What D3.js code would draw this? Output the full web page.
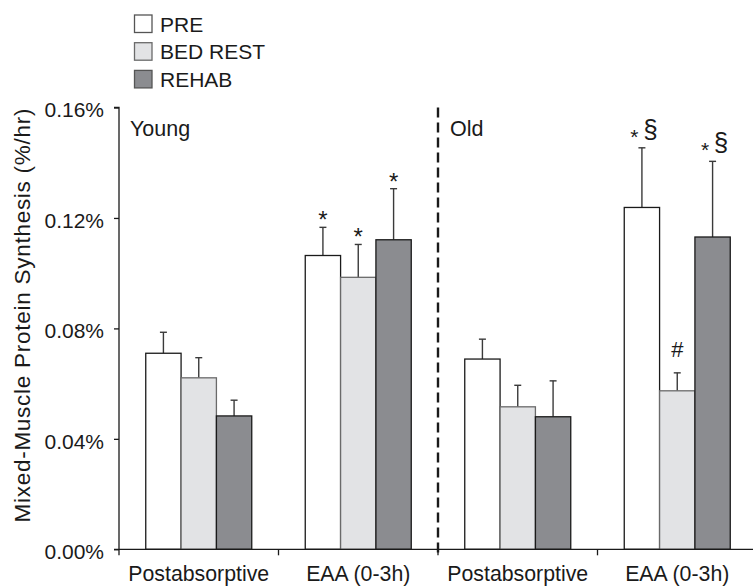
<!DOCTYPE html>
<html>
<head>
<meta charset="utf-8">
<script src="https://cdn.jsdelivr.net/npm/d3@7"></script>
<style>
  html, body { margin: 0; padding: 0; background: #fff; }
  svg { display: block; font-family: "Liberation Sans", Arial, Helvetica, sans-serif; }
</style>
</head>
<body>
<svg id="chart" width="753" height="586"></svg>
<script>
// Categories (age group × condition) and treatment series
const groups = ["Young-Post", "Young-EAA", "Old-Post", "Old-EAA"];
const groupLabels = ["Postabsorptive", "EAA (0-3h)", "Postabsorptive", "EAA (0-3h)"];
const series = ["PRE", "BED REST", "REHAB"];

// Mixed-muscle protein synthesis (%/hr) per series, in group order
const preValues      = [0.0710, 0.1064, 0.0689, 0.1238];
const bedRestValues  = [0.0621, 0.0985, 0.0516, 0.0574];
const rehabValues    = [0.0483, 0.1121, 0.0480, 0.1131];

// Upper error bars (SE)
const preErrors      = [0.0076, 0.0102, 0.0072, 0.0216];
const bedRestErrors  = [0.0073, 0.0119, 0.0078, 0.0065];
const rehabErrors    = [0.0057, 0.0185, 0.0130, 0.0274];

// Significance marks per series, in group order
const preMarks       = ["", "*", "", "*§"];
const bedRestMarks   = ["", "*", "", "#"];
const rehabMarks     = ["", "*", "", "*§"];

const yTicks = [0, 0.04, 0.08, 0.12, 0.16];
const yTickLabels = ["0.00%", "0.04%", "0.08%", "0.12%", "0.16%"];
const panelLabels = ["Young", "Old"];

const seriesValues = [preValues, bedRestValues, rehabValues];
const seriesErrors = [preErrors, bedRestErrors, rehabErrors];
const seriesMarks  = [preMarks, bedRestMarks, rehabMarks];
const fills   = ["#ffffff", "#e2e3e5", "#8b8c90"];
const strokes = ["#1a1a1a", "#6a6a6a", "#1a1a1a"];
const ink = "#1a1a1a";

const svg = d3.select("#chart");

const x0 = d3.scaleBand().domain(groups).range([119, 757]).paddingInner(0).paddingOuter(0);
const x1 = d3.scaleBand().domain(series).range([26.75, x0.bandwidth() - 26.75]).padding(0);
const y = d3.scaleLinear().domain([0, 0.16]).range([549.3, 107.5]);

// Flattened records for the bars
const records = [];
groups.forEach((g, gi) => {
  series.forEach((s, si) => {
    records.push({
      group: g, series: s, si,
      value: seriesValues[si][gi],
      err: seriesErrors[si][gi],
      mark: seriesMarks[si][gi]
    });
  });
});

// Error bars (upper whisker with a short cap)
const errG = svg.append("g");
records.forEach(d => {
  const cx = x0(d.group) + x1(d.series) + x1.bandwidth() / 2;
  const yTop = y(d.value + d.err);
  errG.append("line")
    .attr("x1", cx).attr("x2", cx)
    .attr("y1", y(d.value)).attr("y2", yTop)
    .attr("stroke", "#3a3a3a").attr("stroke-width", 1.4);
  errG.append("line")
    .attr("x1", cx - 3.5).attr("x2", cx + 3.5)
    .attr("y1", yTop).attr("y2", yTop)
    .attr("stroke", "#3a3a3a").attr("stroke-width", 1.4);
});

// Bars
svg.append("g").selectAll("rect")
  .data(records)
  .join("rect")
  .attr("x", d => x0(d.group) + x1(d.series))
  .attr("y", d => y(d.value))
  .attr("width", x1.bandwidth())
  .attr("height", d => y(0) - y(d.value))
  .attr("fill", d => fills[d.si])
  .attr("stroke", d => strokes[d.si])
  .attr("stroke-width", 1.3);

// Significance marks above the error bars
const markG = svg.append("g").attr("fill", ink);
records.filter(d => d.mark).forEach(d => {
  const cx = x0(d.group) + x1(d.series) + x1.bandwidth() / 2;
  const yTop = y(d.value + d.err);
  if (d.mark === "*") {
    markG.append("text").attr("x", cx).attr("y", yTop + 1)
      .attr("text-anchor", "middle").attr("font-size", 24).text("*");
  } else if (d.mark === "#") {
    markG.append("text").attr("x", cx).attr("y", yTop - 16)
      .attr("text-anchor", "middle").attr("font-size", 22).text("#");
  } else if (d.mark === "*§") {
    markG.append("text").attr("x", cx - 7.5).attr("y", yTop - 4)
      .attr("text-anchor", "middle").attr("font-size", 21).text("*");
    markG.append("text").attr("x", cx + 8.5).attr("y", yTop - 10)
      .attr("text-anchor", "middle").attr("font-size", 26).text("§");
  }
});

// Y axis
const yAxis = d3.axisLeft(y).tickValues(yTicks).tickSize(5).tickPadding(10)
  .tickFormat((d, i) => yTickLabels[i]);
const yg = svg.append("g").attr("transform", "translate(119,0)").call(yAxis);
yg.select(".domain").attr("stroke", ink).attr("stroke-width", 1.3)
  .attr("d", `M-5,${y(0.16)}H0V${y(0)}H-5`);
yg.selectAll(".tick line").attr("stroke", ink).attr("stroke-width", 1.3);
yg.selectAll(".tick text").attr("font-size", 21).attr("fill", ink)
  .attr("font-family", "'Liberation Sans', Arial, sans-serif")
  .attr("dy", "0.45em");

// X axis baseline with separators between groups
const xg = svg.append("g");
xg.append("line").attr("x1", 119).attr("x2", 753).attr("y1", y(0)).attr("y2", y(0))
  .attr("stroke", ink).attr("stroke-width", 1.3);
groups.forEach(g => {
  xg.append("line").attr("x1", x0(g)).attr("x2", x0(g))
    .attr("y1", y(0)).attr("y2", y(0) + 6)
    .attr("stroke", ink).attr("stroke-width", 1.3);
});
groups.forEach((g, i) => {
  xg.append("text")
    .attr("x", x0(g) + x0.bandwidth() / 2).attr("y", 581)
    .attr("text-anchor", "middle").attr("font-size", 21.3).attr("fill", ink)
    .text(groupLabels[i]);
});

// Dashed divider between age groups
svg.append("line")
  .attr("x1", x0(groups[2])).attr("x2", x0(groups[2]))
  .attr("y1", y(0.16)).attr("y2", y(0) + 4)
  .attr("stroke", ink).attr("stroke-width", 2.4)
  .attr("stroke-dasharray", "10,5");

// Panel labels
svg.append("text").attr("x", 130).attr("y", 136).attr("font-size", 21.5).attr("fill", ink).text(panelLabels[0]);
svg.append("text").attr("x", 450).attr("y", 136).attr("font-size", 21.5).attr("fill", ink).text(panelLabels[1]);

// Y axis title, spread over the axis height
svg.append("text")
  .attr("transform", `translate(30,${(108 + 523) / 2}) rotate(-90)`)
  .attr("text-anchor", "middle").attr("font-size", 22.5).attr("fill", ink)
  .attr("textLength", 414).attr("lengthAdjust", "spacing")
  .text("Mixed-Muscle Protein Synthesis (%/hr)");

// Legend
const legend = svg.append("g");
series.forEach((s, i) => {
  const ly = 15 + i * 27.7;
  legend.append("rect").attr("x", 134.5).attr("y", ly).attr("width", 17.5).attr("height", 17.5)
    .attr("fill", fills[i]).attr("stroke", i === 1 ? "#6a6a6a" : "#555").attr("stroke-width", 1.3);
  legend.append("text").attr("x", 160).attr("y", ly + 16.5).attr("font-size", 21).attr("fill", ink).text(s);
});
</script>
</body>
</html>
